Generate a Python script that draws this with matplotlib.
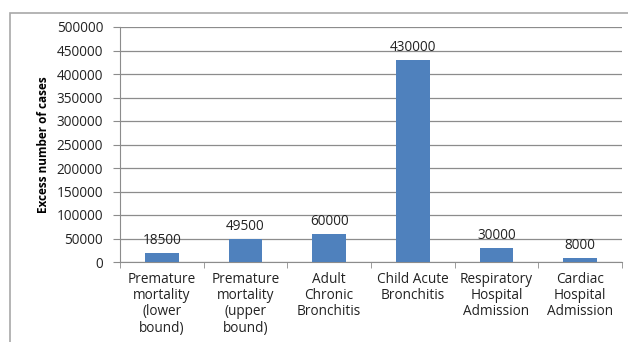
import matplotlib
matplotlib.use("Agg")
import matplotlib.pyplot as plt
from matplotlib.patches import Rectangle

categories = ["Premature\nmortality\n(lower\nbound)", "Premature\nmortality\n(upper\nbound)",
              "Adult\nChronic\nBronchitis", "Child Acute\nBronchitis",
              "Respiratory\nHospital\nAdmission", "Cardiac\nHospital\nAdmission"]
values = [18500, 49500, 60000, 430000, 30000, 8000]
yticks = list(range(0, 500001, 50000))

plt.rcParams['font.family'] = ['Open Sans', 'DejaVu Sans']

fig = plt.figure(figsize=(6.28, 3.42), dpi=100)
fig.patches.append(Rectangle((10/628, -0.1), 1.2, 1 - 13/342 + 0.1, transform=fig.transFigure,
                             fill=False, edgecolor='#a8a8a8', linewidth=1.2))
ax = fig.add_axes([120/628, 1 - 262/342, (622 - 120)/628, (262 - 27)/342])

x = list(range(len(values)))
ax.bar(x, values, width=0.4, color='#4f81bd', zorder=3)
for xi, v in zip(x, values):
    ax.text(xi, v + 11000, str(v), ha='center', va='bottom', fontsize=9.8, color='#222222')

ax.set_xlim(-0.5, len(values) - 0.5)
ax.set_ylim(0, 500000)
ax.set_yticks(yticks)
ax.set_yticklabels([str(t) for t in yticks], fontsize=9.8, color='#222222')
ax.yaxis.grid(True, color='#8c8c8c', linewidth=0.9, zorder=0)
ax.set_xticks(x)
ax.set_xticklabels(categories, fontsize=9.8, linespacing=1.12, color='#222222')
ax.tick_params(axis='x', length=0, pad=7)
ax.set_xticks([i + 0.5 for i in range(-1, len(values))], minor=True)
ax.tick_params(axis='x', which='minor', length=4, color='#8c8c8c')
ax.tick_params(axis='y', length=5, color='#8c8c8c', pad=7)
for s in ['top', 'right']:
    ax.spines[s].set_visible(False)
ax.spines['left'].set_color('#8c8c8c')
ax.spines['bottom'].set_color('#8c8c8c')
ax.set_ylabel('Excess number of cases', fontsize=8.5, fontweight='bold', labelpad=5)

fig.savefig('out.png', dpi=100)
